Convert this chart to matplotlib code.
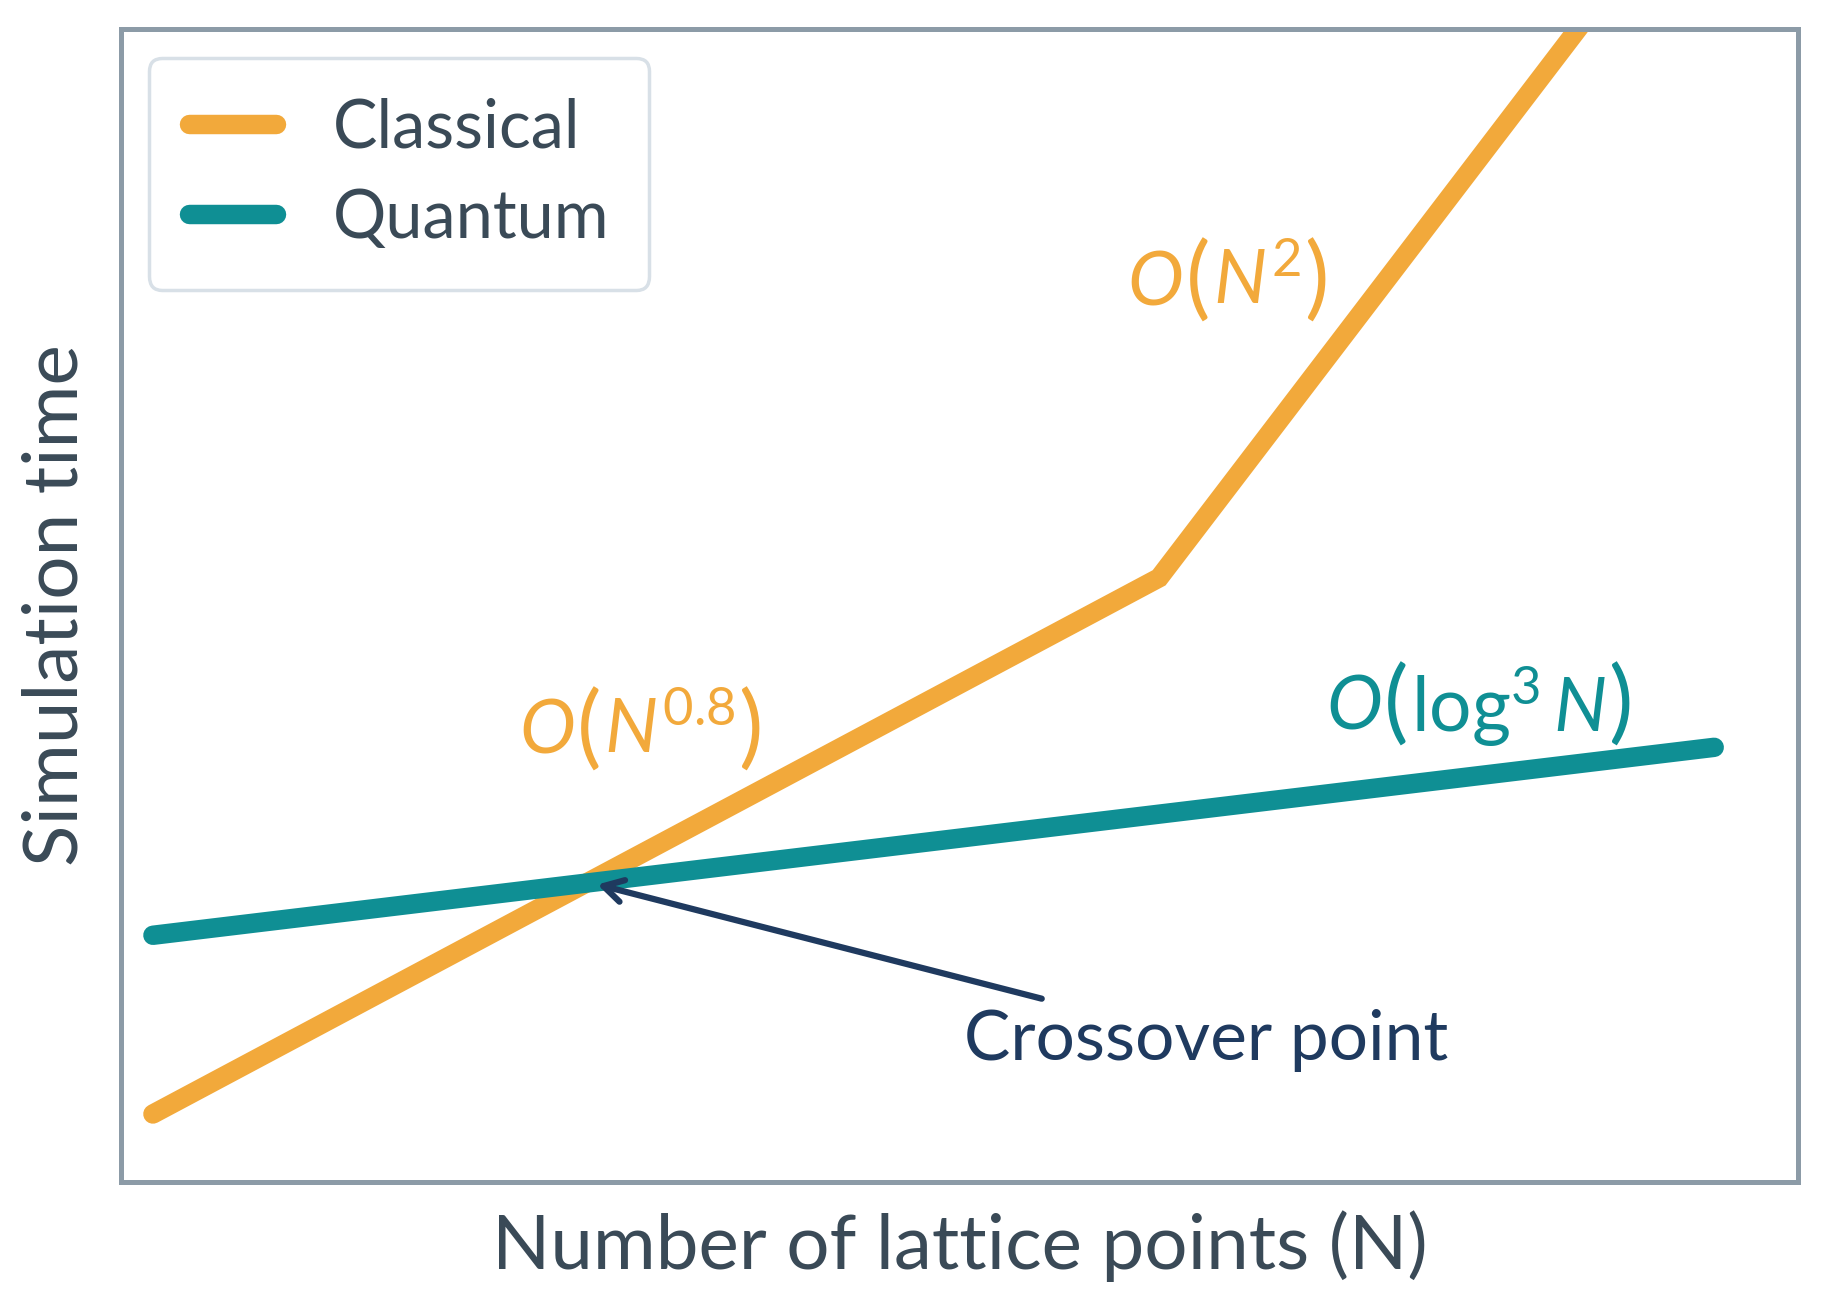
import matplotlib
matplotlib.use("Agg")
import matplotlib.pyplot as plt
from matplotlib.offsetbox import TextArea, HPacker, AnnotationBbox

plt.rcParams['font.family'] = ['Lato', 'DejaVu Sans']
plt.rcParams['mathtext.fontset'] = 'custom'
plt.rcParams['mathtext.rm'] = 'Lato'
plt.rcParams['mathtext.it'] = 'Lato:italic'

# data (arbitrary units)
classical_n = [1.9, 61.9, 95.0]
classical_t = [5.9, 52.4, 115.5]
quantum_n = [1.9, 95.0]
quantum_t = [21.4, 37.7]

orange = "#F2A93B"
teal = "#0F8F94"
text_col = "#3A4A57"
navy = "#1F3A5F"
spine_col = "#8C9BA7"

fig = plt.figure(figsize=(18.26, 13.16), dpi=100)
ax = fig.add_axes([0.0663, 0.1018, 0.9184, 0.8762])

ax.plot(classical_n, classical_t, color=orange, lw=14, solid_capstyle='round',
        solid_joinstyle='miter', label="Classical")
ax.plot(quantum_n, quantum_t, color=teal, lw=14, solid_capstyle='round',
        label="Quantum")

ax.set_xlim(0, 100)
ax.set_ylim(0, 100)
ax.set_xticks([])
ax.set_yticks([])
for s in ax.spines.values():
    s.set_color(spine_col)
    s.set_linewidth(3.6)

ax.set_xlabel("Number of lattice points (N)", fontsize=55, color=text_col, labelpad=20)
ax.set_ylabel("Simulation time", fontsize=55, color=text_col, labelpad=22)

leg = ax.legend(loc='upper left', fontsize=48, frameon=True, fancybox=True,
                handlelength=1.3, handletextpad=0.85, borderpad=0.6,
                labelspacing=0.42, borderaxespad=0, bbox_to_anchor=(0.0167, 0.975))
for t in leg.get_texts():
    t.set_color(text_col)
leg.get_frame().set_edgecolor("#D8E0E7")
leg.get_frame().set_linewidth(2.5)
leg.get_frame().set_alpha(1)


def big_o(parts, x, y, color, size=54, psize=66):
    kids = []
    for p in parts:
        fs = psize if p in ("(", ")") else size
        kids.append(TextArea(p, textprops=dict(color=color, fontsize=fs)))
    box = HPacker(children=kids, align="center", pad=0, sep=2)
    ab = AnnotationBbox(box, (x, y), xycoords='data', frameon=False,
                        box_alignment=(0.5, 0.5))
    ax.add_artist(ab)


big_o(["$O$", "(", "$N^{0.8}$", ")"], 31.0, 39.1, orange)
big_o(["$O$", "(", "$N^{2}$", ")"], 66.0, 78.0, orange)
big_o(["$O$", "(", r"$\mathrm{log}^{3}\,N$", ")"], 81.0, 41.2, teal)

ax.annotate("", xy=(28.4, 25.8), xytext=(54.9, 15.9),
            arrowprops=dict(arrowstyle='->,head_length=1.4,head_width=0.8',
                            color=navy, lw=4.5, shrinkA=0, shrinkB=0,
                            capstyle='round'))
ax.text(64.7, 12.3, "Crossover point", color=navy, fontsize=50,
        ha='center', va='center')

fig.savefig("out.png", dpi=100)
